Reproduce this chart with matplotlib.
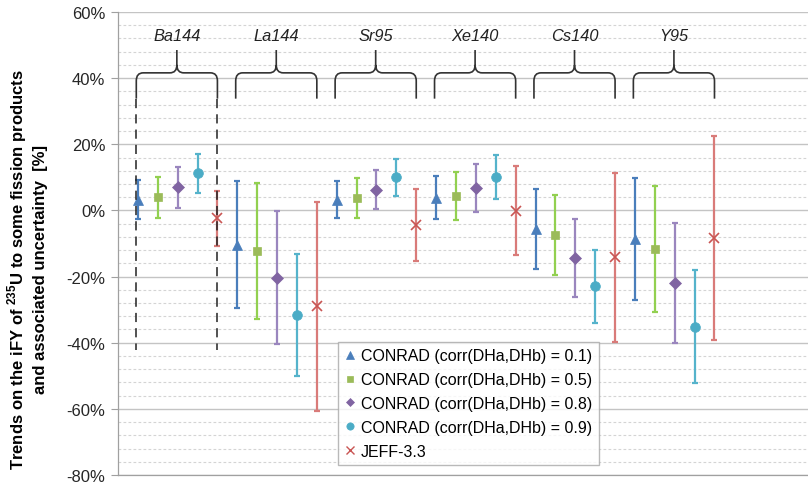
import numpy as np
import matplotlib
matplotlib.use("Agg")
import matplotlib.pyplot as plt
from matplotlib.path import Path
from matplotlib.patches import PathPatch
from matplotlib.lines import Line2D
from matplotlib.ticker import FuncFormatter, MultipleLocator

plt.rcParams['font.family'] = ['Liberation Sans', 'DejaVu Sans']
plt.rcParams['mathtext.fontset'] = 'custom'
plt.rcParams['mathtext.rm'] = 'Liberation Sans'
plt.rcParams['mathtext.bf'] = 'Liberation Sans:bold'

# ---- data (percent) ----
products = ["Ba144", "La144", "Sr95", "Xe140", "Cs140", "Y95"]
series_names = ["CONRAD (corr(DHa,DHb) = 0.1)", "CONRAD (corr(DHa,DHb) = 0.5)",
                "CONRAD (corr(DHa,DHb) = 0.8)", "CONRAD (corr(DHa,DHb) = 0.9)",
                "JEFF-3.3"]
corr01_val = [3.3, -10.4, 3.2, 3.8, -5.5, -8.7]
corr01_err = [6.0, 19.2, 5.6, 6.5, 12.1, 18.5]
corr05_val = [4.0, -12.2, 3.8, 4.3, -7.5, -11.6]
corr05_err = [6.2, 20.5, 6.0, 7.3, 12.1, 19.0]
corr08_val = [7.0, -20.3, 6.3, 6.8, -14.3, -21.9]
corr08_err = [6.2, 20.0, 6.0, 7.2, 11.8, 18.2]
corr09_val = [11.2, -31.6, 10.0, 10.2, -23.0, -35.1]
corr09_err = [5.8, 18.4, 5.6, 6.6, 10.9, 17.0]
jeff_val = [-2.4, -29.0, -4.4, -0.1, -14.2, -8.3]
jeff_err = [8.4, 31.5, 10.8, 13.4, 25.5, 30.8]
y_ticks = [-80, -60, -40, -20, 0, 20, 40, 60]

values = [corr01_val, corr05_val, corr08_val, corr09_val, jeff_val]
errors = [corr01_err, corr05_err, corr08_err, corr09_err, jeff_err]

marker_colors = ["#4A7EBB", "#9BBB59", "#8064A2", "#4BACC6", "#C95553"]
err_colors = ["#4A7EBB", "#92D050", "#9A86BE", "#55B3CB", "#D97B79"]
markers = ["^", "s", "D", "o", "x"]
msizes = [7.5, 5.5, 6, 7, 7]

W, H = 808, 485
fig = plt.figure(figsize=(W / 100, H / 100), dpi=100)
ax = fig.add_axes([118 / W, 1 - 476 / H, 1 - 118 / W, (476 - 13) / H])

ng = len(products)
ns = len(values)
for s in range(ns):
    xs = [g * ns + s + 1 for g in range(ng)]
    ax.errorbar(xs, values[s], yerr=errors[s], fmt='none', ecolor=err_colors[s],
                elinewidth=1.6, capsize=2.5, capthick=1.6, zorder=3)
    ax.plot(xs, values[s], linestyle='none', marker=markers[s], ms=msizes[s],
            color=marker_colors[s], mec=marker_colors[s], mew=1.2 if markers[s] == 'x' else 0.5,
            zorder=4)

# braces and labels
y_bot, y_h, y_top = 33.8, 41.6, 48.5
dx, dy = 0.35, 2.4
for g, name in enumerate(products):
    x0 = g * ns + 0.92
    x1 = g * ns + ns
    xm = (x0 + x1) / 2
    verts = [(x0, y_bot), (x0, y_h - dy), (x0, y_h), (x0 + dx, y_h),
             (xm - dx, y_h), (xm, y_h), (xm, y_h + dy), (xm, y_top),
             (xm, y_h + dy), (xm, y_h), (xm + dx, y_h),
             (x1 - dx, y_h), (x1, y_h), (x1, y_h - dy), (x1, y_bot)]
    codes = [Path.MOVETO, Path.LINETO, Path.CURVE3, Path.CURVE3,
             Path.LINETO, Path.CURVE3, Path.CURVE3, Path.LINETO,
             Path.MOVETO, Path.CURVE3, Path.CURVE3,
             Path.LINETO, Path.CURVE3, Path.CURVE3, Path.LINETO]
    ax.add_patch(PathPatch(Path(verts, codes), fill=False, ec="#333333", lw=1.2, zorder=5))
    ax.text(xm, 53.0, name, ha='center', va='center', style='italic', fontsize=11.8,
            color="#222222", zorder=6)
    if g == 0:
        for xx in (x0, x1):
            ax.plot([xx, xx], [y_bot, -42.2], color="#222222", lw=1.1,
                    dashes=(6, 4), zorder=6)

ax.set_xlim(0, (W - 118.1) / 19.88)
ax.set_ylim(-80, 60)
ax.set_yticks(y_ticks)
ax.yaxis.set_minor_locator(MultipleLocator(4))
ax.yaxis.set_major_formatter(FuncFormatter(lambda v, p: f"{v:.0f}%"))
ax.tick_params(axis='y', which='major', length=5, width=0.8, color="#A0A0A0",
               labelsize=12, labelcolor="#262626", pad=4)
ax.tick_params(axis='y', which='minor', length=0)
ax.set_xticks([])
ax.grid(True, which='major', axis='y', color="#C4C4C4", lw=1.0, zorder=0)
ax.grid(True, which='minor', axis='y', color="#D4D4D4", lw=0.8, linestyle=(0, (2.5, 2)), zorder=0)
ax.set_axisbelow(True)
for sp in ('top', 'right'):
    ax.spines[sp].set_visible(False)
for sp in ('left', 'bottom'):
    ax.spines[sp].set_color("#A0A0A0")
    ax.spines[sp].set_linewidth(0.9)

fig.text(27 / W, 1 - 270 / H,
         "Trends on the iFY of $^{\\mathbf{235}}$U to some fission products\nand associated uncertainty  [%]",
         rotation=90, ha='center', va='center', fontsize=12, fontweight='bold',
         multialignment='center', linespacing=1.3)

handles = [Line2D([], [], linestyle='none', marker=markers[s], ms=msizes[s] * 0.75,
                  color=marker_colors[s], mew=1.0 if markers[s] == 'x' else 0.5)
           for s in range(ns)]
leg = ax.legend(handles, series_names, loc='lower left',
                bbox_to_anchor=((338 - 118) / (W - 118), (476 - 466) / (476 - 13)),
                fontsize=11.5, frameon=True, fancybox=False, handlelength=0.7,
                handletextpad=0.35, labelspacing=0.55, borderpad=0.4,
                borderaxespad=0)
leg.get_frame().set_edgecolor("#A8A8A8")
leg.get_frame().set_linewidth(1.0)
leg.set_zorder(10)

fig.savefig("out.png", dpi=100)
